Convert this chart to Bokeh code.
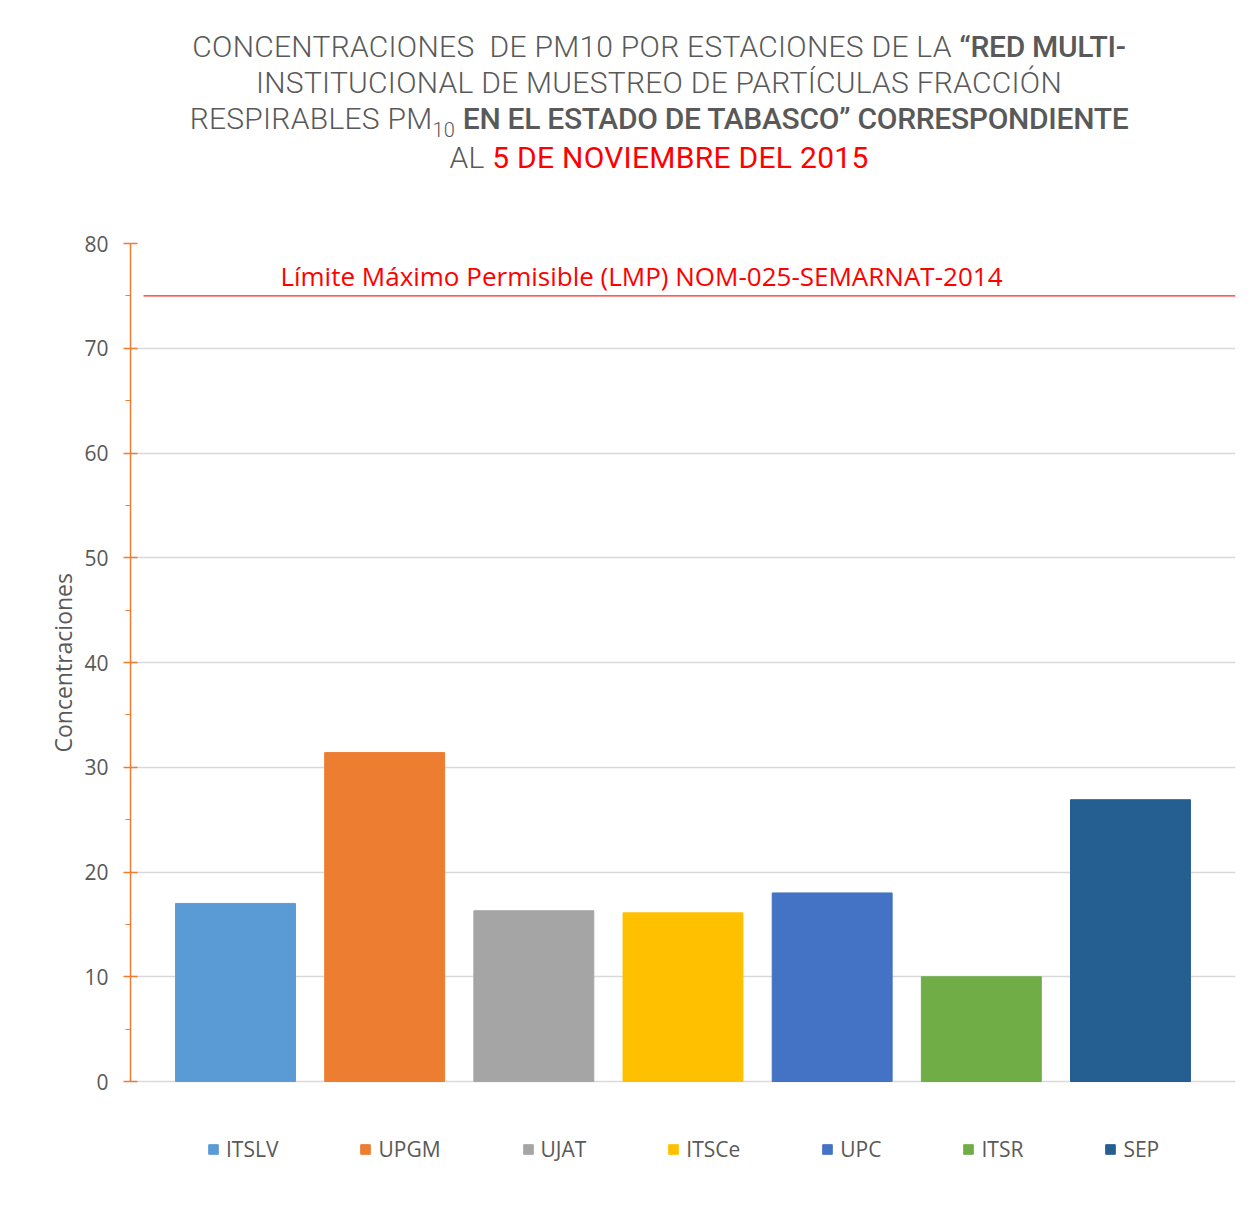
from bokeh.plotting import figure
from bokeh.models import (ColumnDataSource, Range1d, SingleIntervalTicker, Label, Div, Legend,
                          LegendItem, Title)
from bokeh.layouts import column
from bokeh.embed import file_html
from bokeh.resources import INLINE

# ---- data ----
stations = ["ITSLV", "UPGM", "UJAT", "ITSCe", "UPC", "ITSR", "SEP"]
concentrations = [17.0, 31.4, 16.3, 16.1, 18.0, 10.0, 26.9]
colors = ["#5B9BD5", "#ED7D31", "#A5A5A5", "#FFC000", "#4472C4", "#70AD47", "#255E91"]
lmp_value = 75
lmp_label = "Límite Máximo Permisible (LMP) NOM-025-SEMARNAT-2014"
y_label = "Concentraciones"

FONT = "Open Sans"
GRAY = "#595959"

B = '<b style="font-weight:500; letter-spacing:-0.3px">'
title_html = (
    '<div style="width:1202px; margin-left:58px; text-align:center; font-family:Roboto; '
    'font-size:30px; color:#595959; line-height:36px; padding-top:29px; font-weight:300; '
    'letter-spacing:0.27px; white-space:nowrap;">'
    'CONCENTRACIONES&nbsp; DE PM10 POR ESTACIONES DE LA ' + B + '“RED MULTI-</b><br>'
    'INSTITUCIONAL DE MUESTREO DE PARTÍCULAS FRACCIÓN<br>'
    'RESPIRABLES PM<span style="font-size:20px; position:relative; top:8px;">10</span> '
    + B + 'EN EL ESTADO DE TABASCO” CORRESPONDIENTE</b><br>'
    'AL <span style="color:#FF0000; font-weight:400">5 DE NOVIEMBRE DEL 2015</span>'
    '</div>'
)
div = Div(text=title_html, width=1260, height=195, margin=0)

# frame: top at y=243 (80), 0 at y=1081 -> 10.475 px per unit; frame bottom at 1195
y_start = 80 - (1195 - 243) / 10.475

x_pos = list(range(len(stations)))
src = ColumnDataSource(dict(x=x_pos, y=concentrations, color=colors, name=stations))

p = figure(width=1260, height=1010, output_backend="svg", toolbar_location=None,
           x_range=Range1d(-0.704, 6.704), y_range=Range1d(y_start, 80),
           min_border_left=130, min_border_right=25, min_border_top=48, min_border_bottom=10,
           margin=0)
p.outline_line_color = None
p.xaxis.visible = False
p.xgrid.grid_line_color = None
p.ygrid.grid_line_color = "#D9D9D9"
p.ygrid.grid_line_width = 1.5
p.ygrid.bounds = (0, 80)

yax = p.yaxis[0]
yax.bounds = (0, 80)
yax.ticker = SingleIntervalTicker(interval=10, num_minor_ticks=2)
yax.axis_line_color = "#ED7D31"
yax.axis_line_width = 1.5
yax.major_tick_line_color = "#ED7D31"
yax.major_tick_line_width = 1.5
yax.major_tick_in = 7
yax.major_tick_out = 7
yax.minor_tick_line_color = "#ED7D31"
yax.minor_tick_in = 0
yax.minor_tick_out = 5
yax.major_label_text_font = FONT
yax.major_label_text_font_size = "21px"
yax.major_label_text_color = GRAY
yax.major_label_standoff = 15

# y-axis title, placed along the 0-80 span of the axis
p.add_layout(Title(text=y_label, align="left", offset=443, standoff=6,
                   text_font=FONT, text_font_size="23px", text_font_style="normal",
                   text_color=GRAY), "left")

bars = p.vbar(x="x", top="y", width=0.804, color="color", source=src)

# LMP line and label
p.segment(x0=[-0.617], x1=[6.704], y0=[lmp_value], y1=[lmp_value], line_color="#FF0000",
          line_width=1.3, line_alpha=0.85)
p.add_layout(Label(x=0.301, y=76.85, text=lmp_label, text_font=FONT, text_font_size="26px",
                   text_color="#FF0000", text_baseline="middle"))

items = [LegendItem(label=s, renderers=[bars], index=i) for i, s in enumerate(stations)]
legend = Legend(items=items, orientation="horizontal", location=(77, 32),
                glyph_width=12, glyph_height=12, label_standoff=7, spacing=81,
                padding=0, margin=0, border_line_color=None, background_fill_alpha=0,
                label_text_font=FONT, label_text_font_size="21px", label_text_color=GRAY)
p.add_layout(legend, "center")

layout = column(div, p, margin=0)
open("out.html", "w").write(file_html(layout, INLINE))
